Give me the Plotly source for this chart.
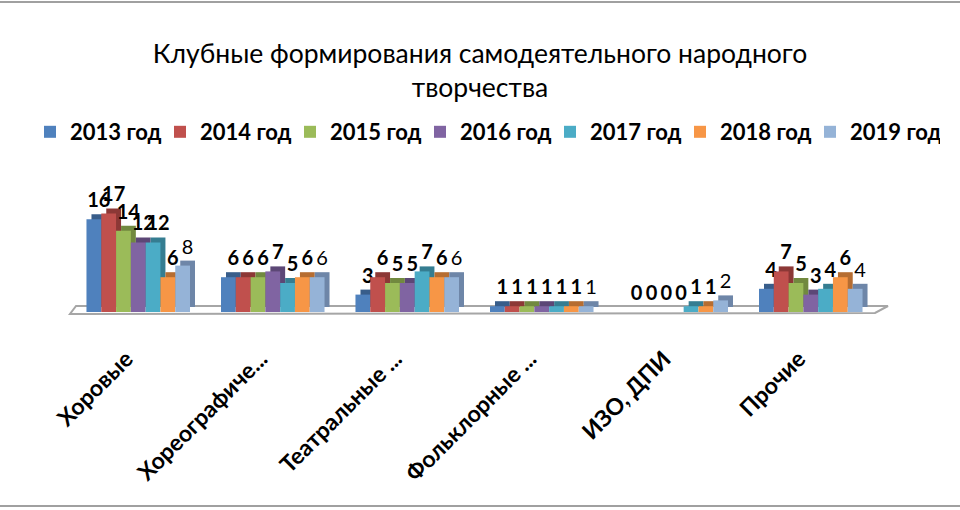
import plotly.graph_objects as go

categories = ["Хоровые", "Хореографиче...", "Театральные ...", "Фольклорные ...", "ИЗО, ДПИ", "Прочие"]
years = ["2013 год", "2014 год", "2015 год", "2016 год", "2017 год", "2018 год", "2019 год"]
v2013 = [16, 6, 3, 1, 0, 4]
v2014 = [17, 6, 6, 1, 0, 7]
v2015 = [14, 6, 5, 1, 0, 5]
v2016 = [12, 7, 5, 1, 0, 3]
v2017 = [12, 5, 7, 1, 1, 4]
v2018 = [6, 6, 6, 1, 1, 6]
v2019 = [8, 6, 6, 1, 2, 4]
series = [v2013, v2014, v2015, v2016, v2017, v2018, v2019]

front = ["#4F81BD", "#C0504D", "#9BBB59", "#8064A2", "#4BACC6", "#F79646", "#95B3D7"]
side = ["#385D8A", "#8C3836", "#71893F", "#5C4776", "#357D91", "#B66D31", "#6E86A8"]

W, H = 960, 510
px_left, px_right = 71, 878      # plot area in pixels
mt, mb = 167, 198
pw, ph = px_right - px_left, H - mt - mb
ymax = 25

group = 0.77
w = group / len(years)
dx = 5 / (pw / len(categories))   # depth of the fake 3d, in category units
dy = 5 / (ph / ymax)              # depth in value units

fig = go.Figure()

# back faces (darker) first, they carry the labels
for i, vals in enumerate(series):
    fig.add_trace(go.Bar(
        x=categories, y=vals, base=dy,
        offset=-group / 2 + i * w + dx, width=w,
        marker=dict(color=side[i], line=dict(width=0)),
        text=[str(v) for v in vals], textposition="outside", constraintext="none",
        textfont=dict(family="Lato", size=20, color="black",
                      weight="normal" if i == len(series) - 1 else "bold"),
        cliponaxis=False, showlegend=False, hoverinfo="skip",
    ))

for i, vals in enumerate(series):
    fig.add_trace(go.Bar(
        x=categories, y=vals, name=years[i],
        offset=-group / 2 + i * w, width=w,
        marker=dict(color=front[i], line=dict(width=0)),
        cliponaxis=False,
    ))


def px_to_paper(x, y):
    return x / W, (H - mb - y) / ph


# floor
pts = [px_to_paper(70, 314), px_to_paper(875, 313), px_to_paper(888, 306), px_to_paper(76, 306)]
path = "M " + " L ".join(f"{a:.4f},{b:.4f}" for a, b in pts) + " Z"
shapes = [dict(type="path", xref="paper", yref="paper", path=path,
               line=dict(color="#A6A6A6", width=2), fillcolor="white", layer="below")]
# frame lines top and bottom
for yy in (2, 506):
    _, y0 = px_to_paper(0, yy)
    shapes.append(dict(type="line", xref="paper", yref="paper", x0=0, x1=1, y0=y0, y1=y0,
                       line=dict(color="#A0A0A0", width=2)))

fig.update_layout(
    width=W, height=H,
    margin=dict(l=0, r=0, t=mt, b=mb, autoexpand=False),
    paper_bgcolor="white", plot_bgcolor="white",
    barmode="overlay",
    title=dict(text="Клубные формирования самодеятельного народного<br>творчества",
               x=0.5, xanchor="center", y=1 - 63 / H, yanchor="middle",
               font=dict(family="Lato", size=26.5, color="black")),
    legend=dict(orientation="h", xref="container", yref="container",
                x=485 / W, xanchor="center", y=1 - 132 / H, yanchor="middle",
                font=dict(family="Lato", size=22, color="black", weight="bold"),
                itemwidth=30, entrywidth=85, traceorder="normal"),
    font=dict(family="Lato", color="black"),
    shapes=shapes,
)
fig.update_xaxes(domain=[px_left / W, px_right / W], showline=False, showgrid=False, ticks="",
                 tickangle=-45, tickfont=dict(family="Lato", size=23, color="black", weight="bold"),
                 ticklabelstandoff=28, ticklabelshift=-12)
fig.update_yaxes(visible=False, range=[0, ymax])

fig.write_html("out.html", config={"displayModeBar": False},
               post_script="document.body.style.margin='0';")
